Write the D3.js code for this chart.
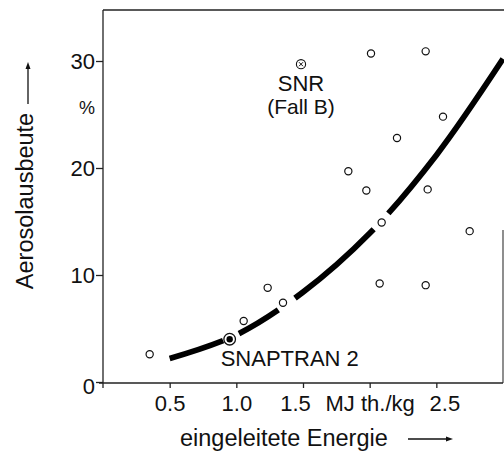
<!DOCTYPE html>
<html>
<head>
<meta charset="utf-8">
<script src="https://cdn.jsdelivr.net/npm/d3@7"></script>
<style>
body{margin:0;background:#fff;}
text{font-family:"Liberation Sans",Arial,sans-serif;fill:#111;}
</style>
</head>
<body>
<div id="wrapper"></div>
<script>
// measured points: energy (MJ th./kg) vs aerosol yield (%)
var energy  = [0.35,1.055,1.235,1.35,1.84,1.975,2.01,2.075,2.09,2.205,2.42,2.435,2.42,2.55,2.75];
var aerosol = [2.6,5.7,8.8,7.4,19.7,17.9,30.7,9.2,14.9,22.8,30.9,18.0,9.05,24.8,14.1];
var snr = [1.485,29.7];
var snaptran = [0.95,4.0];
// fitted curve
var curveX = [0.5,1.0,1.5,2.0,2.5,3.0];
var curveY = [2.2,4.4,8.4,13.9,21.2,30.2];
var curveGaps = [[0.9,1.02],[1.315,1.44],[2.03,2.14]];
var xTicks = [0.5,1.0,1.5,2.0,2.5];
var xTickLabels = ['0.5','1.0','1.5','MJ th./kg','2.5'];
var yTicks = [0,10,20,30];

function drawChart(){
	var xscale = d3.scaleLinear().domain([0,3]).range([103,503]);
	var yscale = d3.scaleLinear().domain([0,30]).range([382,61]);

	var canvas = d3.select('#wrapper')
					.append('svg')
					.attr('width',504)
					.attr('height',452);

	// frame
	canvas.append('line')
		.attr('x1',103).attr('y1',10).attr('x2',504).attr('y2',10)
		.style('stroke','#222').style('stroke-width','1.3px');
	canvas.append('line')
		.attr('x1',503).attr('y1',230).attr('x2',503).attr('y2',383)
		.style('stroke','#444').style('stroke-width','1.2px');

	var yAxis = d3.axisLeft(yscale).tickValues(yTicks).tickSize(7).tickPadding(1);
	var xAxis = d3.axisBottom(xscale)
					.tickValues(xTicks)
					.tickSize(5)
					.tickFormat(function(d,i){ return xTickLabels[i]; });

	var y_xis = canvas.append('g')
					.attr('transform','translate(103,0)')
					.call(yAxis);
	y_xis.select('.domain').attr('d','M0,10V388');
	y_xis.selectAll('text').style('font-size','22px');
	y_xis.selectAll('.tick').filter(function(d){ return d===0; })
		.select('text').attr('dy','0.5em');

	var x_xis = canvas.append('g')
					.attr('transform','translate(0,383)')
					.call(xAxis);
	x_xis.select('.domain').attr('d','M99,0H503');
	x_xis.selectAll('text')
		.attr('y',28).attr('dy',0)
		.attr('dx',function(d,i){ return i===2 ? -8 : (i===4 ? 8 : 0); })
		.style('font-size','22px');

	canvas.selectAll('.domain, .tick line').style('stroke','#222').style('stroke-width','1.3px');

	// unit
	canvas.append('text')
		.attr('x',87).attr('y',114)
		.attr('text-anchor','middle')
		.style('font-size','18px')
		.text('%');

	// axis titles with arrows
	canvas.append('text')
		.attr('transform','translate(33,201) rotate(-90)')
		.attr('text-anchor','middle')
		.style('font-size','23.5px')
		.text('Aerosolausbeute');
	canvas.append('line')
		.attr('x1',28).attr('y1',104).attr('x2',28).attr('y2',68)
		.style('stroke','#111').style('stroke-width','1.3px');
	canvas.append('path')
		.attr('d','M28,62L25.5,69H30.5Z').style('fill','#111');

	canvas.append('text')
		.attr('x',180).attr('y',446)
		.style('font-size','23.5px')
		.text('eingeleitete Energie');
	canvas.append('line')
		.attr('x1',408).attr('y1',439).attr('x2',446).attr('y2',439)
		.style('stroke','#111').style('stroke-width','1.3px');
	canvas.append('path')
		.attr('d','M453,439L446,436.5V441.5Z').style('fill','#111');

	// curve, broken around the points
	var line = d3.line()
				.x(function(d){ return xscale(d); })
				.y(function(d,i){ return yscale(curveY[i]); })
				.curve(d3.curveCatmullRom);

	var curve = canvas.append('path')
		.attr('d',line(curveX))
		.style('fill','none')
		.style('stroke','#000')
		.style('stroke-width','5.8px');

	var node = curve.node();
	var total = node.getTotalLength();
	function lengthAt(x){
		var lo = 0, hi = total, px = xscale(x);
		for(var k=0;k<40;k++){
			var mid = (lo+hi)/2;
			if(node.getPointAtLength(mid).x < px){ lo = mid; } else { hi = mid; }
		}
		return lo;
	}
	var dashes = [], prev = 0;
	curveGaps.forEach(function(g){
		var a = lengthAt(g[0]), b = lengthAt(g[1]);
		dashes.push(a-prev, b-a);
		prev = b;
	});
	dashes.push(total-prev+10, 0);
	curve.style('stroke-dasharray',dashes.join(' '));

	// points
	canvas.append('g')
		.selectAll('circle')
		.data(energy)
		.enter()
		.append('circle')
		.attr('cx',function(d){ return xscale(d); })
		.attr('cy',function(d,i){ return yscale(aerosol[i]); })
		.attr('r',3.6)
		.style('fill','#fff')
		.style('stroke','#111')
		.style('stroke-width','1.2px');

	// SNR (Fall B)
	var sx = xscale(snr[0]), sy = yscale(snr[1]);
	canvas.append('circle')
		.attr('cx',sx).attr('cy',sy).attr('r',4.6)
		.style('fill','#fff').style('stroke','#111').style('stroke-width','1.1px');
	canvas.append('path')
		.attr('d','M'+(sx-2)+','+(sy-2)+'L'+(sx+2)+','+(sy+2)+'M'+(sx+2)+','+(sy-2)+'L'+(sx-2)+','+(sy+2))
		.style('stroke','#111').style('stroke-width','1px');
	canvas.append('text')
		.attr('x',sx).attr('y',sy+27)
		.attr('text-anchor','middle')
		.style('font-size','22px')
		.text('SNR');
	canvas.append('text')
		.attr('x',sx).attr('y',sy+50)
		.attr('text-anchor','middle')
		.style('font-size','21px')
		.text('(Fall B)');

	// SNAPTRAN 2
	var px = xscale(snaptran[0]), py = yscale(snaptran[1]);
	canvas.append('circle')
		.attr('cx',px).attr('cy',py).attr('r',5.8)
		.style('fill','#fff').style('stroke','#111').style('stroke-width','1.3px');
	canvas.append('circle')
		.attr('cx',px).attr('cy',py).attr('r',3.2)
		.style('fill','#000');
	canvas.append('text')
		.attr('x',px-9).attr('y',py+27)
		.style('font-size','22px')
		.text('SNAPTRAN 2');
}
drawChart();
</script>
</body>
</html>
